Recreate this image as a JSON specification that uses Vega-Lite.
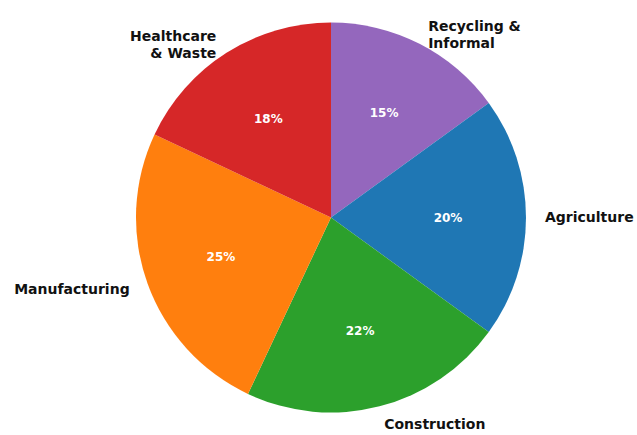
{
  "$schema": "https://vega.github.io/schema/vega-lite/v6.json",
  "width": 612,
  "height": 435,
  "autosize": {"type": "none"},
  "padding": {"left": 25, "top": 0, "right": 0, "bottom": 0},
  "background": "white",
  "view": {"stroke": null},
  "data": {
    "values": [
      {"sector": "Recycling &\nInformal", "key": "Recycling", "share": 0.15, "ord": 1},
      {"sector": "Agriculture", "key": "Agriculture", "share": 0.20, "ord": 2},
      {"sector": "Construction", "key": "Construction", "share": 0.22, "ord": 3},
      {"sector": "Manufacturing", "key": "Manufacturing", "share": 0.25, "ord": 4},
      {"sector": "Healthcare\n& Waste", "key": "Healthcare", "share": 0.18, "ord": 5}
    ]
  },
  "encoding": {
    "theta": {"field": "share", "type": "quantitative", "stack": true},
    "order": {"field": "ord", "type": "quantitative"}
  },
  "layer": [
    {
      "mark": {"type": "arc", "outerRadius": 195},
      "encoding": {
        "color": {
          "field": "key", "type": "nominal", "legend": null,
          "scale": {
            "domain": ["Recycling", "Agriculture", "Construction", "Manufacturing", "Healthcare"],
            "range": ["#9467bd", "#1f77b4", "#2ca02c", "#ff7f0e", "#d62728"]
          }
        }
      }
    },
    {
      "mark": {"type": "text", "radius": 117, "font": "DejaVu Sans", "fontWeight": "bold", "fontSize": 12, "color": "white", "align": "center", "baseline": "middle"},
      "encoding": {"text": {"field": "share", "type": "quantitative", "format": ".0%"}}
    },
    {
      "mark": {"type": "text", "radius": 214, "font": "DejaVu Sans", "fontWeight": "bold", "fontSize": 14, "color": "#111111", "align": "left", "baseline": "middle", "lineBreak": "\n", "lineHeight": 17},
      "encoding": {
        "text": {
          "condition": {"test": "datum.key === 'Recycling' || datum.key === 'Agriculture' || datum.key === 'Construction'", "field": "sector"},
          "value": ""
        }
      }
    },
    {
      "mark": {"type": "text", "radius": 214, "font": "DejaVu Sans", "fontWeight": "bold", "fontSize": 14, "color": "#111111", "align": "right", "baseline": "middle", "lineBreak": "\n", "lineHeight": 17},
      "encoding": {
        "text": {
          "condition": {"test": "datum.key === 'Healthcare' || datum.key === 'Manufacturing'", "field": "sector"},
          "value": ""
        }
      }
    }
  ]
}
